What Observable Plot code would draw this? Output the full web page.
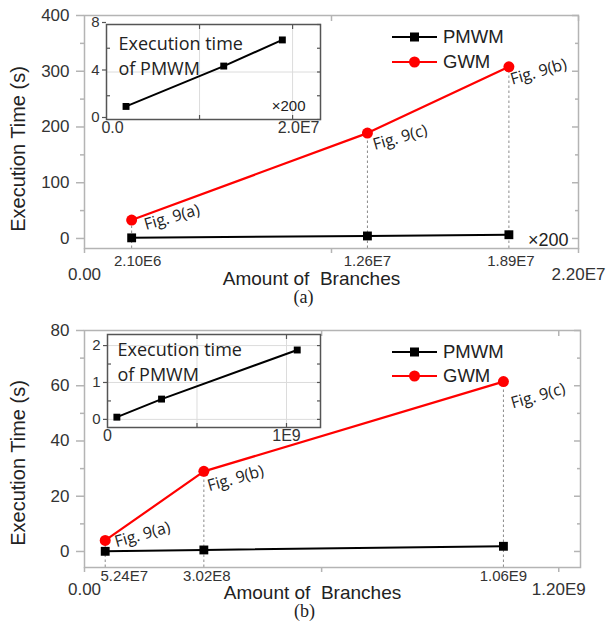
<!DOCTYPE html>
<html><head><meta charset="utf-8">
<script src="https://cdn.jsdelivr.net/npm/d3@7"></script>
<script src="https://cdn.jsdelivr.net/npm/@observablehq/plot@0.6"></script>
<style>
html,body{margin:0;padding:0;background:#fff;}
#root{position:relative;width:607px;height:631px;overflow:hidden;background:#fff;}
#root svg{position:absolute;}
</style></head><body><div id="root"></div>
<script>
// ---------- data ----------
const seriesNames = ["PMWM", "GWM"];
const xTitle = "Amount of\u00a0 Branches";
const yTitle = "Execution Time (s)";
const insetTitle = "Execution time\nof PMWM";
const scaleNote = "×200";
const captions = ["(a)", "(b)"];

// panel (a)
const branchesA = [2.10e6, 1.26e7, 1.89e7];
const branchLabelsA = ["2.10E6", "1.26E7", "1.89E7"];
const gwmA = [33, 189, 308];
const pmwmA = [1.1, 4.5, 6.7];
const figLabelsA = ["Fig. 9(a)", "Fig. 9(c)", "Fig. 9(b)"];
const xDomainA = [0, 2.2e7];
const xEndTicksA = [0, 2.2e7];
const xEndLabelsA = ["0.00", "2.20E7"];
const xMinorA = [1.1e7];
const yDomainA = [-18, 400];
const yTicksA = [0, 100, 200, 300, 400];
const yMinorA = [50, 150, 250, 350];
const insetXDomainA = [0, 2.3e7];
const insetYDomainA = [0, 8];
const insetYTicksA = [0, 4, 8];
const insetYMinorA = [2, 6];
const insetXTicksA = [0, 2.0e7];
const insetXLabelsA = ["0.0", "2.0E7"];
const insetXGridA = [1e7, 2e7];

// panel (b)
const branchesB = [5.24e7, 3.02e8, 1.06e9];
const branchLabelsB = ["5.24E7", "3.02E8", "1.06E9"];
const gwmB = [4, 29, 61.5];
const pmwmB = [0.06, 0.55, 1.88];
const figLabelsB = ["Fig. 9(a)", "Fig. 9(b)", "Fig. 9(c)"];
const xDomainB = [0, 1.255e9];
const xEndTicksB = [0, 1.2e9];
const xEndLabelsB = ["0.00", "1.20E9"];
const xMinorB = [6e8];
const yDomainB = [-5.8, 80];
const yTicksB = [0, 20, 40, 60, 80];
const yMinorB = [10, 30, 50, 70];
const insetXDomainB = [0, 1.19e9];
const insetYDomainB = [-0.22, 2.3];
const insetYTicksB = [0, 1, 2];
const insetYMinorB = [0.5, 1.5];
const insetXTicksB = [0, 1e9];
const insetXLabelsB = ["0", "1E9"];
const insetXGridB = [5e8, 1e9];

// ---------- styles ----------
const SANS = "'Liberation Sans', Arial, sans-serif";
const HUM = "'Open Sans', sans-serif";
const SERIF = "'Liberation Serif', 'Times New Roman', serif";
const FRAME = "#b4b4b4";
const RED = "#ff0000";
const seriesColors = ["#000000", RED];
const root = document.getElementById("root");

function place(el, left, top) {
  el.style.left = left + "px";
  el.style.top = top + "px";
  root.appendChild(el);
}

function mainPanel(p) {
  const rows = p.xs.map((x, i) => ({x, gwm: p.gwm[i], pmwm: p.pmwm[i], fig: p.figs[i], tick: p.tickLabels[i]}));
  const endMap = new Map(p.xEnds.map((x, i) => [x, p.xEndLabels[i]]));
  const blank = () => "";
  const ax = {label: null, stroke: FRAME, strokeWidth: 1.5};
  const marks = [
    Plot.ruleX(rows, {x: "x", y1: p.yDomain[0], y2: "gwm", stroke: "#8a8a8a", strokeWidth: 1, strokeDasharray: "2.5,2.5"}),
    Plot.frame({stroke: FRAME, strokeWidth: 1.5}),
    Plot.axisY(p.yTicks, {...ax, anchor: "left", tickSize: 8, tickPadding: 7, fontSize: 17, fill: "#333"}),
    Plot.axisY(p.yMinor, {...ax, anchor: "left", tickSize: 4, tickFormat: blank}),
    Plot.axisY(p.yTicks, {...ax, anchor: "right", tickSize: 7, dx: -7, tickFormat: blank}),
    Plot.axisY(p.yMinor, {...ax, anchor: "right", tickSize: 4, dx: -4, tickFormat: blank}),
    Plot.axisX([...p.xEnds, ...p.xMinor], {...ax, anchor: "bottom", tickSize: 5, tickFormat: blank}),
    Plot.axisX([...p.xMinor, p.xEnds[1]], {...ax, anchor: "top", tickSize: 5, dy: 5, tickFormat: blank}),
    Plot.axisX(p.xEnds, {...ax, anchor: "bottom", tickSize: 0, tickPadding: p.lowerPad, fontSize: 17, fill: "#333", tickFormat: d => endMap.get(d)}),
    ...rows.map((r, i) => Plot.text([r], {x: "x", y: p.yDomain[0], text: "tick", dx: p.tickDx[i], dy: p.upperPad,
      lineAnchor: "top", fontSize: 15, fontFamily: SANS, fill: "#333"})),
    Plot.line(rows, {x: "x", y: "pmwm", stroke: seriesColors[0], strokeWidth: 2}),
    Plot.line(rows, {x: "x", y: "gwm", stroke: seriesColors[1], strokeWidth: 2.2}),
    Plot.dot(rows, {x: "x", y: "pmwm", symbol: "square", r: 5, fill: seriesColors[0], stroke: "none"}),
    Plot.dot(rows, {x: "x", y: "gwm", r: 5.5, fill: seriesColors[1], stroke: "none"}),
    ...rows.map((r, i) => Plot.text([r], {x: "x", y: "gwm", text: "fig", dx: p.figOff[i][0], dy: p.figOff[i][1],
      rotate: -16, textAnchor: "start", lineAnchor: "middle", fontSize: 16, fontFamily: HUM, fill: "#222"})),
    Plot.text([yTitle], {frameAnchor: "left", textAnchor: "middle", lineAnchor: "middle", rotate: -90, dx: -66, dy: p.yTitleDy, fontSize: 20, fontFamily: SANS, fill: "#222"}),
    Plot.text([xTitle], {frameAnchor: "bottom", textAnchor: "middle", dx: -20, dy: p.xTitleDy, lineAnchor: "middle", fontSize: 19, fontFamily: SANS, fill: "#222"}),
    Plot.text([p.caption], {frameAnchor: "bottom", textAnchor: "middle", dx: -28, dy: p.capDy, lineAnchor: "middle", fontSize: 18, fontFamily: SERIF, fill: "#222"})
  ];
  if (p.note) marks.push(Plot.text([p.note], {frameAnchor: "bottom-right", textAnchor: "end", lineAnchor: "middle", dx: -10, dy: -8, fontSize: 18, fontFamily: SANS, fill: "#222"}));
  return Plot.plot({
    width: 607, height: p.height,
    marginTop: p.mt, marginBottom: p.mb, marginLeft: 84, marginRight: p.mr,
    style: {background: "transparent", fontFamily: SANS, overflow: "visible"},
    x: {domain: p.xDomain, axis: null},
    y: {domain: p.yDomain, axis: null},
    marks
  });
}

function insetPanel(p) {
  const rows = p.xs.map((x, i) => ({x, y: p.ys[i]}));
  const lblMap = new Map(p.xTicks.map((x, i) => [x, p.xLabels[i]]));
  const blank = () => "";
  const ax = {label: null, stroke: "#555", strokeWidth: 1.2};
  const marks = [
    Plot.frame({fill: "#fff", stroke: "none"}),
    Plot.gridX(p.xGrid, {stroke: "#dcdcdc", strokeOpacity: 1}),
    Plot.gridY(p.yTicks, {stroke: "#dcdcdc", strokeOpacity: 1}),
    Plot.text([insetTitle], {frameAnchor: "top-left", textAnchor: "start", lineAnchor: "top", dx: p.titleDx, dy: p.titleDy,
      fontSize: 18, lineHeight: 1.39, fontFamily: HUM, fill: "#222"}),
    Plot.line(rows, {x: "x", y: "y", stroke: "#000", strokeWidth: 2}),
    Plot.dot(rows, {x: "x", y: "y", symbol: "square", r: 3.9, fill: "#000", stroke: "none"}),
    Plot.frame({stroke: "#555", strokeWidth: 1.5}),
    Plot.axisY(p.yTicks, {...ax, anchor: "left", tickSize: 4, tickPadding: 3, fontSize: 15, fill: "#333", dy: p.yLabelDy}),
    Plot.axisY(p.yMinor, {...ax, anchor: "left", tickSize: 4, dx: 4, tickFormat: blank}),
    Plot.axisY([...p.yTicks, ...p.yMinor], {...ax, anchor: "right", tickSize: 4, dx: -4, tickFormat: blank}),
    Plot.axisX(p.xGrid, {...ax, anchor: "bottom", tickSize: 4, dy: -4, tickFormat: blank}),
    Plot.axisX(p.xGrid, {...ax, anchor: "top", tickSize: 4, dy: 4, tickFormat: blank}),
    Plot.axisX(p.xTicks, {...ax, anchor: "bottom", tickSize: 0, tickPadding: 2, dx: p.xLabelDx, fontSize: 16, fill: "#333", tickFormat: d => lblMap.get(d)})
  ];
  if (p.note) marks.push(Plot.text([p.note], {frameAnchor: "bottom-right", textAnchor: "end", lineAnchor: "middle", dx: -15, dy: -13, fontSize: 15, fontFamily: SANS, fill: "#222"}));
  return Plot.plot({
    width: 280, height: 134,
    marginTop: 16, marginBottom: p.mb, marginLeft: p.ml, marginRight: 20,
    style: {background: "transparent", fontFamily: SANS, overflow: "visible"},
    x: {domain: p.xDomain, axis: null},
    y: {domain: p.yDomain, axis: null},
    marks
  });
}

// panel (a)
place(mainPanel({
  height: 310, mt: 15, mb: 62, mr: 29,
  xDomain: xDomainA, yDomain: yDomainA, xs: branchesA, gwm: gwmA, pmwm: pmwmA, figs: figLabelsA,
  tickLabels: branchLabelsA, tickDx: [6, 0, 2], xEnds: xEndTicksA, xEndLabels: xEndLabelsA, xMinor: xMinorA,
  yTicks: yTicksA, yMinor: yMinorA,
  figOff: [[13, 5], [6, 12], [2, 13]],
  upperPad: 6.5, lowerPad: 19, yTitleDy: 17, xTitleDy: 30, capDy: 49, caption: captions[0], note: scaleNote
}), 0, 0);

place(insetPanel({
  ml: 46, mb: 23, xDomain: insetXDomainA, yDomain: insetYDomainA, xs: branchesA, ys: pmwmA,
  yTicks: insetYTicksA, yMinor: insetYMinorA, xTicks: insetXTicksA, xLabels: insetXLabelsA, xGrid: insetXGridA,
  titleDx: 12, titleDy: 8, note: scaleNote, xLabelDx: 6, yLabelDy: -2
}), 60, 8);

// panel (b)
place(mainPanel({
  height: 316, mt: 15, mb: 64, mr: 27,
  xDomain: xDomainB, yDomain: yDomainB, xs: branchesB, gwm: gwmB, pmwm: pmwmB, figs: figLabelsB,
  tickLabels: branchLabelsB, tickDx: [19, 3, 0], xEnds: xEndTicksB, xEndLabels: xEndLabelsB, xMinor: xMinorB,
  yTicks: yTicksB, yMinor: yMinorB,
  figOff: [[10, 2], [4, 15], [8, 22]],
  upperPad: 2.5, lowerPad: 15, yTitleDy: 14, xTitleDy: 25, capDy: 44, caption: captions[1], note: null
}), 0, 315);

place(insetPanel({
  ml: 47, mb: 25, xDomain: insetXDomainB, yDomain: insetYDomainB, xs: branchesB, ys: pmwmB,
  yTicks: insetYTicksB, yMinor: insetYMinorB, xTicks: insetXTicksB, xLabels: insetXLabelsB, xGrid: insetXGridB,
  titleDx: 10, titleDy: 4, note: null, xLabelDx: 0, yLabelDy: 0
}), 60, 318);

// legends
const leg = d3.create("svg").attr("width", 607).attr("height", 631)
  .style("left", "0px").style("top", "0px").style("pointer-events", "none");
[[37, 62], [352, 376]].forEach(ys => {
  seriesNames.forEach((name, i) => {
    const g = leg.append("g").attr("transform", `translate(0,${ys[i]})`);
    g.append("line").attr("x1", 392).attr("x2", 437).attr("y1", 0).attr("y2", 0)
      .attr("stroke", seriesColors[i]).attr("stroke-width", 2.2);
    if (i === 0) g.append("rect").attr("x", 410).attr("y", -4.5).attr("width", 9).attr("height", 9).attr("fill", seriesColors[i]);
    else g.append("circle").attr("cx", 414.5).attr("cy", 0).attr("r", 5.5).attr("fill", seriesColors[i]);
    g.append("text").attr("x", 443).attr("y", 0).attr("dy", "0.35em")
      .attr("font-family", SANS).attr("font-size", 18.5).attr("fill", "#222").text(name);
  });
});
root.appendChild(leg.node());
</script></body></html>
